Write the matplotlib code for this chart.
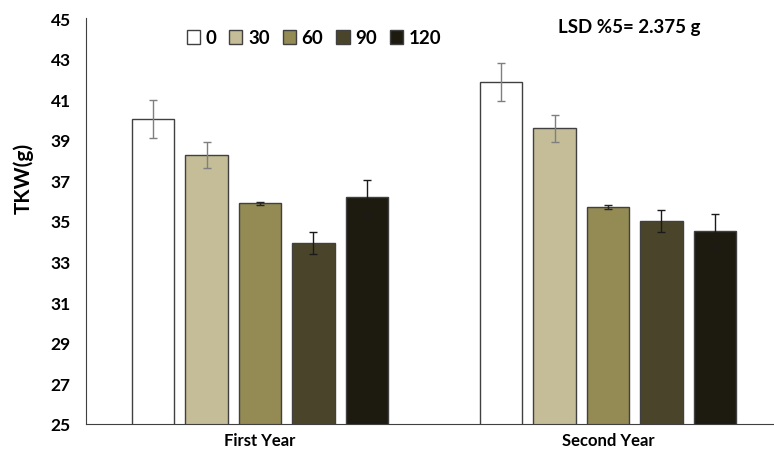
import matplotlib
matplotlib.use("Agg")
import matplotlib.pyplot as plt
import numpy as np

plt.rcParams["font.family"] = ["Lato", "DejaVu Sans"]
plt.rcParams["font.weight"] = "bold"

years = ["First Year", "Second Year"]
doses = ["0", "30", "60", "90", "120"]
tkw = {
    "0": [40.02, 41.86],
    "30": [38.24, 39.57],
    "60": [35.87, 35.68],
    "90": [33.90, 35.00],
    "120": [36.17, 34.49],
}
err = {
    "0": [0.92, 0.93],
    "30": [0.65, 0.67],
    "60": [0.09, 0.10],
    "90": [0.55, 0.56],
    "120": [0.84, 0.84],
}
fills = ["#ffffff", "#c4bd97", "#948a54", "#4a452a", "#1d1b10"]
err_cols = ["#7f7f7f", "#7f7f7f", "#262626", "#1a1a1a", "#1a1a1a"]
yticks = np.arange(25, 46, 2)

W, H = 774, 456
fig = plt.figure(figsize=(W / 100, H / 100), dpi=100)
# axis runs off the right edge like the original
ax = fig.add_axes([86 / W, 1 - 425 / H, 696 / W, 406 / H])

x = np.arange(len(years))
pitch = 0.1537
width = 0.121
for i, d in enumerate(doses):
    pos = x + (i - 2) * pitch
    ax.bar(pos, tkw[d], width, bottom=0, color=fills[i], edgecolor="#404040",
           linewidth=1.0, label=d, zorder=2)
    ax.errorbar(pos, tkw[d], yerr=err[d], fmt="none", ecolor=err_cols[i],
                elinewidth=1.0, capsize=3, capthick=1.0, zorder=3)

ax.set_xlim(-0.5, 1.5)
ax.set_ylim(25, 45)
ax.set_yticks(yticks)
ax.set_xticks(x)
ax.set_xticklabels(years)
ax.tick_params(axis="both", length=0)
ax.tick_params(axis="y", pad=11, labelsize=12.5)
ax.tick_params(axis="x", pad=6, labelsize=12)
for s in ["top", "right"]:
    ax.spines[s].set_visible(False)
ax.spines["left"].set_color("#404040")
ax.spines["bottom"].set_color("#404040")
fig.text(23 / W, 1 - 178 / H, "TKW(g)", fontsize=15, fontweight="bold",
         rotation=90, ha="center", va="center")

fig.legend(loc="center", bbox_to_anchor=(314 / W, 1 - 39 / H), ncol=5,
           frameon=False, fontsize=13.5, handlelength=0.7, handleheight=0.7,
           handletextpad=0.3, columnspacing=0.7)
fig.text(558 / W, 1 - 28 / H, "LSD %5= 2.375 g", fontsize=13.5,
         fontweight="bold", va="center", ha="left")

fig.savefig("out.png", dpi=100)
